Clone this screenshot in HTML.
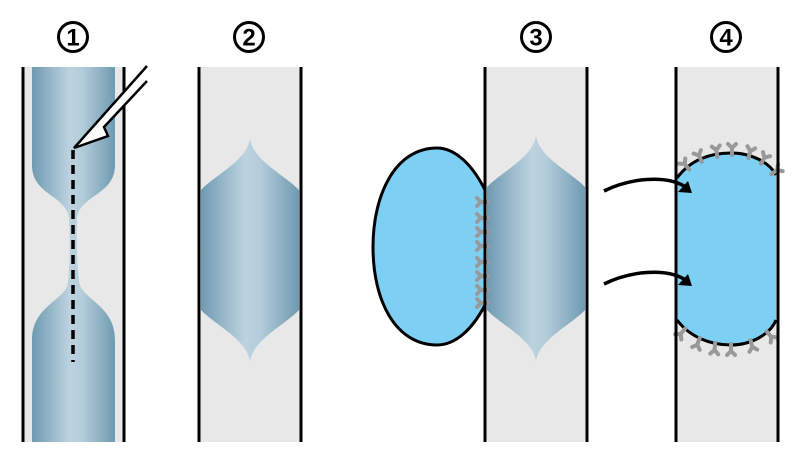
<!DOCTYPE html>
<html><head><meta charset="utf-8"><style>
html,body{margin:0;padding:0;background:#fff;}
svg{display:block;}
text{font-family:"Liberation Sans","Noto Sans CJK JP",sans-serif;}
</style></head><body>
<svg width="800" height="464" viewBox="0 0 800 464" xmlns="http://www.w3.org/2000/svg">
<defs>
<linearGradient id="g1" x1="0" x2="1" y1="0" y2="0">
<stop offset="0" stop-color="#6f9ab1"/><stop offset="0.45" stop-color="#bcd3df"/><stop offset="0.6" stop-color="#b4cddb"/><stop offset="1" stop-color="#6f9ab1"/>
</linearGradient>
<g id="st"><path d="M0 2 L0 -5 M0 -5 L-4 -9 M0 -5 L4 -9" stroke="#999" stroke-width="4" stroke-linecap="round" stroke-linejoin="round" fill="none"/></g>
</defs>
<!-- labels -->
<g fill="none" stroke="#000" stroke-width="3">
<circle cx="73" cy="37" r="14.5"/><circle cx="249" cy="37" r="14.5"/><circle cx="536" cy="37" r="14.5"/><circle cx="726" cy="37" r="14.5"/>
</g>
<g font-size="24" font-weight="bold" text-anchor="middle">
<text x="73" y="45.5">1</text><text x="249" y="45.5">2</text><text x="536" y="45.5">3</text><text x="726" y="45.5">4</text>
</g>
<!-- tubes bg -->
<rect x="23" y="67" width="101" height="375" fill="#e8e8e8"/>
<rect x="199" y="67" width="102" height="375" fill="#e8e8e8"/>
<rect x="485" y="67" width="102" height="375" fill="#e8e8e8"/>
<rect x="675" y="67" width="103" height="375" fill="#e8e8e8"/>
<!-- tube1 blob -->
<path d="M32 67 L115 67 L115 165 C115 195 80 195 77 218 C76 240 77 262 79 282 C82 300 115 305 115 340 L115 442 L32 442 L32 340 C32 305 67 300 68 282 C70 262 70 240 69 218 C66 195 32 195 32 165 Z" fill="url(#g1)"/>
<line x1="73" y1="150" x2="73" y2="362" stroke="#000" stroke-width="3.5" stroke-dasharray="9,6"/>
<!-- tube2 blob -->
<path d="M250 138 C252 160 285 175 299 190 L299 310 C285 325 252 340 250 362 C248 340 215 325 201 310 L201 190 C215 175 248 160 250 138 Z" fill="url(#g1)"/>
<!-- tube3 blob -->
<path d="M536 135 C538 157 571 172 585 187 L585 310 C571 325 538 340 536 362 C534 340 501 325 487 310 L487 187 C501 172 534 157 536 135 Z" fill="url(#g1)"/>
<!-- oval 3 -->
<path d="M485 190 C470 160 452 148 437 148 C395 148 373 195 373 247 C373 300 395 345 437 345 C455 345 472 330 485 305 Z" fill="#7ecff4" stroke="#000" stroke-width="3"/>
<g>
<use href="#st" transform="translate(486,202) rotate(-90)"/>
<use href="#st" transform="translate(486,218) rotate(-90)"/>
<use href="#st" transform="translate(486,232) rotate(-90)"/>
<use href="#st" transform="translate(486,246) rotate(-90)"/>
<use href="#st" transform="translate(486,262) rotate(-90)"/>
<use href="#st" transform="translate(486,276) rotate(-90)"/>
<use href="#st" transform="translate(486,290) rotate(-90)"/>
<use href="#st" transform="translate(486,303) rotate(-90)"/>
</g>
<!-- tube4 blue -->
<path d="M677 178 C690 160 710 153 731 153 C752 153 770 163 776 175 L776 320 C770 335 750 345 731 345 C710 345 690 337 677 320 Z" fill="#7ecff4"/>
<path d="M677 178 C690 160 710 153 731 153 C752 153 770 163 776 175" fill="none" stroke="#000" stroke-width="3"/>
<path d="M677 320 C690 337 710 345 731 345 C750 345 770 335 776 320" fill="none" stroke="#000" stroke-width="3"/>
<g>
<use href="#st" transform="translate(688,168) rotate(-40)"/>
<use href="#st" transform="translate(701,160) rotate(-25)"/>
<use href="#st" transform="translate(717,155) rotate(-8)"/>
<use href="#st" transform="translate(732,153) rotate(0)"/>
<use href="#st" transform="translate(749,156) rotate(15)"/>
<use href="#st" transform="translate(762,162) rotate(30)"/>
<use href="#st" transform="translate(773,173) rotate(55)"/>
<use href="#st" transform="translate(684,330) rotate(220)"/>
<use href="#st" transform="translate(699,340) rotate(200)"/>
<use href="#st" transform="translate(715,345) rotate(185)"/>
<use href="#st" transform="translate(731,346) rotate(180)"/>
<use href="#st" transform="translate(751,342) rotate(165)"/>
<use href="#st" transform="translate(768,333) rotate(140)"/>
</g>
<!-- tube lines -->
<g stroke="#000" stroke-width="3">
<line x1="23" y1="67" x2="23" y2="442"/><line x1="124" y1="67" x2="124" y2="442"/>
<line x1="199" y1="67" x2="199" y2="442"/><line x1="301" y1="67" x2="301" y2="442"/>
<line x1="485" y1="67" x2="485" y2="442"/><line x1="587" y1="67" x2="587" y2="442"/>
<line x1="676" y1="67" x2="676" y2="442"/><line x1="778" y1="67" x2="778" y2="442"/>
</g>
<!-- needle -->
<path d="M147 66 L74 148 L108 136 L104 127 L147 81" fill="#fff" stroke="#000" stroke-width="2.5" stroke-linejoin="miter"/>
<!-- arrows -->
<path d="M604 191 C630 178 665 175 684 186" fill="none" stroke="#000" stroke-width="3.5"/>
<path d="M692 193 L678 192 L688 181 Z" fill="#000"/>
<path d="M604 284 C630 271 665 268 684 279" fill="none" stroke="#000" stroke-width="3.5"/>
<path d="M692 286 L678 285 L688 274 Z" fill="#000"/>
</svg>
</body></html>
